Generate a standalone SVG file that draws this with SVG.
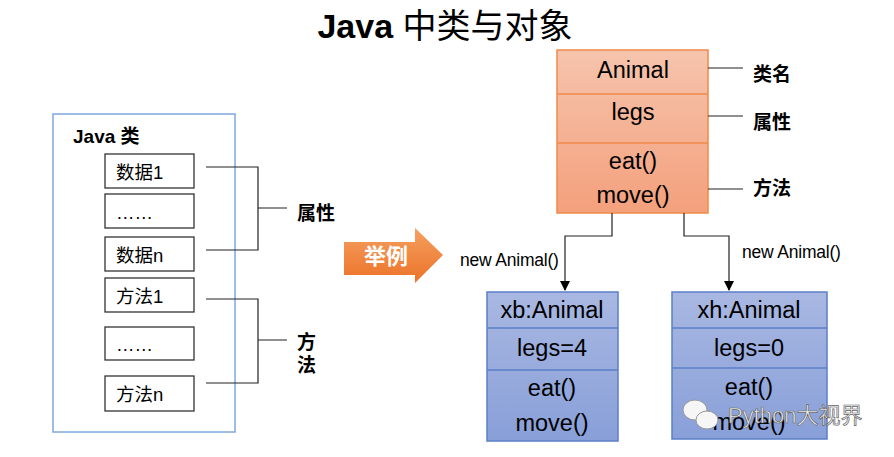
<svg xmlns="http://www.w3.org/2000/svg" width="894" height="457" viewBox="0 0 894 457">
<defs>
<linearGradient id="gOr" x1="0" y1="0" x2="0" y2="1"><stop offset="0" stop-color="#f6c4ad"/><stop offset="1" stop-color="#f4a07c"/></linearGradient>
<linearGradient id="gBl" x1="0" y1="0" x2="0" y2="1"><stop offset="0" stop-color="#a9b8e2"/><stop offset="1" stop-color="#889fd8"/></linearGradient>
<linearGradient id="gAr" x1="0" y1="0" x2="0" y2="1"><stop offset="0" stop-color="#f4a060"/><stop offset="1" stop-color="#ec7228"/></linearGradient>
<marker id="ah" markerWidth="10" markerHeight="10" refX="9" refY="5" orient="auto" markerUnits="userSpaceOnUse"><path d="M0,0 L10,5 L0,10 z" fill="#000"/></marker>
<style>
text{font-family:"Liberation Sans","Noto Sans CJK SC",sans-serif;fill:#000}
.b{font-weight:bold}
.cell{fill:#fff;stroke:#333;stroke-width:1.3}
.t17{font-size:18.5px}
.lbl{font-size:19px;font-weight:bold}
.cls{font-size:23.5px;text-anchor:middle}
.ln{fill:none;stroke:#222;stroke-width:1.2}
.or{fill:url(#gOr);stroke:#f08a4b;stroke-width:1.5}
.bl{fill:url(#gBl);stroke:#5b7fc8;stroke-width:1.5}
.sm{font-size:17.5px;letter-spacing:-0.2px}
</style>
</defs>
<rect width="894" height="457" fill="#fff"/>
<text x="445" y="38" text-anchor="middle" style="font-size:34px"><tspan class="b">Java</tspan> 中类与对象</text>

<g id="javaClass">
<rect x="53" y="114" width="182" height="318" fill="#fff" stroke="#7fa8dc" stroke-width="1.5"/>
<text x="73" y="143" class="b" style="font-size:19px">Java 类</text>
</g>
<g id="data1"><rect class="cell" x="105" y="154" width="89" height="34"/><text class="t17" x="116" y="179">数据1</text></g>
<g id="dots1"><rect class="cell" x="105" y="194" width="89" height="34"/><text class="t17" x="116" y="219">……</text></g>
<g id="datan"><rect class="cell" x="105" y="237" width="89" height="34"/><text class="t17" x="116" y="262">数据n</text></g>
<g id="method1"><rect class="cell" x="105" y="278" width="89" height="34"/><text class="t17" x="116" y="303">方法1</text></g>
<g id="dots2"><rect class="cell" x="105" y="327" width="89" height="33"/><text class="t17" x="116" y="351">……</text></g>
<g id="methodn"><rect class="cell" x="105" y="376" width="89" height="35"/><text class="t17" x="116" y="401">方法n</text></g>
<g id="attrLabel"><text class="lbl" x="297" y="220">属性</text></g>
<g id="methodLabel"><text class="lbl" x="297" y="349">方</text><text class="lbl" x="297" y="372">法</text></g>

<g id="example">
<path d="M344,242 H415 V228 L443,255 L415,283 V275 H344 z" fill="url(#gAr)"/>
<text x="386" y="264" text-anchor="middle" class="b" style="font-size:22px;fill:#fff">举例</text>
</g>

<g id="animal">
<rect class="or" x="557" y="50" width="151" height="163"/>
<line x1="557" y1="94" x2="708" y2="94" stroke="#f08a4b" stroke-width="1.5"/>
<line x1="557" y1="143" x2="708" y2="143" stroke="#f08a4b" stroke-width="1.5"/>
<text class="cls" x="633" y="78">Animal</text>
<text class="cls" x="633" y="120">legs</text>
<text class="cls" x="633" y="169">eat()</text>
<text class="cls" x="633" y="203">move()</text>
</g>
<g id="labels">
<text class="lbl" x="753" y="81">类名</text>
<text class="lbl" x="753" y="129">属性</text>
<text class="lbl" x="753" y="195">方法</text>
</g>

<g id="xb">
<rect class="bl" x="487" y="292" width="131" height="149"/>
<line x1="487" y1="328" x2="618" y2="328" stroke="#5b7fc8" stroke-width="1.5"/>
<line x1="487" y1="370" x2="618" y2="370" stroke="#5b7fc8" stroke-width="1.5"/>
<text class="cls" x="552" y="318">xb:Animal</text>
<text class="cls" x="552" y="356">legs=4</text>
<text class="cls" x="552" y="396">eat()</text>
<text class="cls" x="552" y="431">move()</text>
</g>
<g id="xh">
<rect class="bl" x="672" y="292" width="155" height="147"/>
<line x1="672" y1="328" x2="827" y2="328" stroke="#5b7fc8" stroke-width="1.5"/>
<line x1="672" y1="368" x2="827" y2="368" stroke="#5b7fc8" stroke-width="1.5"/>
<text class="cls" x="749" y="318">xh:Animal</text>
<text class="cls" x="749" y="356">legs=0</text>
<text class="cls" x="749" y="395">eat()</text>
<text class="cls" x="749" y="430">move()</text>
</g>

<g id="connectors">
<path class="ln" d="M206,167 H258 V250 H206 M258,208 H287"/>
<path class="ln" d="M206,299 H258 V383 H206 M258,340 H287"/>
<path class="ln" d="M708,68 H743 M708,116 H743 M708,189 H743"/>
<path class="ln" d="M612,213 V236 H565 V290" marker-end="url(#ah)"/>
<path class="ln" d="M684,213 V236 H729 V290" marker-end="url(#ah)"/>
<text class="sm" x="460" y="266">new Animal()</text>
<text class="sm" x="742" y="258">new Animal()</text>
</g>

<g id="watermark">
<ellipse cx="695" cy="410" rx="12" ry="10" fill="#f6f6f6" stroke="#999"/>
<ellipse cx="707" cy="420" rx="11" ry="9" fill="#f6f6f6" stroke="#999"/>
<text x="728" y="423" style="font-size:22px;fill:#f4f4f4;stroke:#666;stroke-width:0.7">Python大视界</text>
</g>
</svg>
